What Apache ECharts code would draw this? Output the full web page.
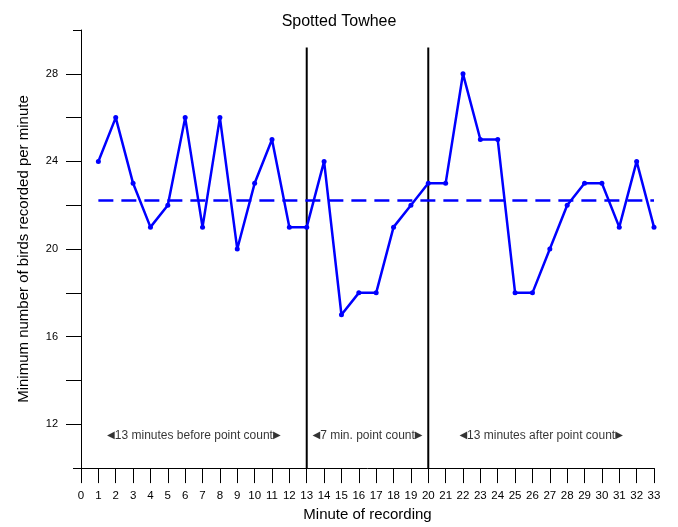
<!DOCTYPE html>
<html>
<head>
<meta charset="utf-8">
<script src="https://cdn.jsdelivr.net/npm/echarts@6/dist/echarts.min.js"></script>
<style>
  html, body { margin: 0; padding: 0; background: #fff; }
  #chart { width: 678px; height: 527px; }
</style>
</head>
<body>
<div id="chart"></div>
<script>
// Minute of recording and the minimum number of birds recorded in that minute
const minutes = [1, 2, 3, 4, 5, 6, 7, 8, 9, 10, 11, 12, 13, 14, 15, 16, 17,
                 18, 19, 20, 21, 22, 23, 24, 25, 26, 27, 28, 29, 30, 31, 32, 33];
const birdsPerMinute = [24, 26, 23, 21, 22, 26, 21, 26, 20, 23, 25, 21, 21, 24, 17, 18, 18,
                        21, 22, 23, 23, 28, 25, 25, 18, 18, 20, 22, 23, 23, 21, 24, 21];

// Point count period boundaries (minutes) and the recording periods
const periodBounds = [0, 13, 20, 33];
const periodLabels = ['13 minutes before point count', '7 min. point count', '13 minutes after point count'];

// Axis ticks
const yTicks = [12, 14, 16, 18, 20, 22, 24, 26, 28];
const yTickLabels = [12, 16, 20, 24, 28];

const FONT = '"Liberation Sans", Arial, Helvetica, sans-serif';

const mean = birdsPerMinute.reduce((a, b) => a + b, 0) / birdsPerMinute.length;
const boundaryTop = 29.2;
const labelLevel = 11.5;

const series = [];

// Period boundary lines
periodBounds.slice(1, -1).forEach(b => {
  series.push({
    type: 'line',
    data: [[b, 10], [b, boundaryTop]],
    symbol: 'none',
    lineStyle: { color: '#000', width: 2 },
    silent: true,
    z: 1
  });
});

// Mean line across all minutes
series.push({
  type: 'line',
  data: [[minutes[0], mean], [minutes[minutes.length - 1], mean]],
  symbol: 'none',
  lineStyle: { color: '#0000ff', width: 2.5, type: [15, 8] },
  silent: true,
  z: 2
});

// Birds per minute
series.push({
  type: 'line',
  data: minutes.map((m, i) => [m, birdsPerMinute[i]]),
  symbol: 'circle',
  symbolSize: 5,
  itemStyle: { color: '#0000ff' },
  lineStyle: { color: '#0000ff', width: 2.5 },
  z: 3
});

// Period annotations
series.push({
  type: 'scatter',
  symbolSize: 0,
  silent: true,
  data: periodLabels.map((t, i) => ({
    value: [(periodBounds[i] + periodBounds[i + 1]) / 2, labelLevel],
    name: t
  })),
  label: {
    show: true,
    position: 'inside',
    formatter: p => '{arr|\u25C0}' + p.name + '{arr|\u25B6}',
    color: '#000',
    fontSize: 12,
    fontFamily: FONT,
    rich: {
      arr: { fontSize: 10, fontFamily: '"DejaVu Sans", sans-serif', color: '#000' }
    }
  },
  z: 4
});

const chart = echarts.init(document.getElementById('chart'), null, { renderer: 'canvas' });
chart.setOption({
  animation: false,
  backgroundColor: '#fff',
  title: {
    text: 'Spotted Towhee',
    left: 'center',
    top: 9,
    textStyle: { fontSize: 16, fontWeight: 'normal', color: '#000', fontFamily: FONT }
  },
  grid: { left: 81, right: 24, top: 30, bottom: 57 },
  xAxis: {
    type: 'value',
    min: 0,
    max: 33,
    interval: 1,
    name: 'Minute of recording',
    nameLocation: 'middle',
    nameGap: 38,
    nameTextStyle: { fontSize: 15, color: '#000', fontFamily: FONT },
    axisLine: { show: true, lineStyle: { color: '#000', width: 1 } },
    axisTick: { show: true, length: 15, lineStyle: { color: '#000', width: 1 } },
    axisLabel: { margin: 22, fontSize: 11.5, color: '#000', fontFamily: FONT },
    splitLine: { show: false }
  },
  yAxis: [{
    type: 'value',
    min: 10,
    max: 30,
    interval: 2,
    name: 'Minimum number of birds recorded per minute',
    nameLocation: 'middle',
    nameGap: 50,
    nameTextStyle: { fontSize: 15, color: '#000', fontFamily: FONT },
    axisLine: { show: true, lineStyle: { color: '#000', width: 1 } },
    axisTick: { show: true, length: 15, customValues: yTicks, lineStyle: { color: '#000', width: 1 } },
    axisLabel: { margin: 23, fontSize: 11, color: '#000', fontFamily: FONT, customValues: yTickLabels },
    splitLine: { show: false }
  }, {
    // short end ticks at the ends of the y range
    type: 'value',
    position: 'left',
    min: 10,
    max: 30,
    interval: 2,
    axisLine: { show: false },
    axisTick: { show: true, length: 8, customValues: [10, 30], lineStyle: { color: '#000', width: 1 } },
    axisLabel: { show: false },
    splitLine: { show: false }
  }],
  series: series
});
</script>
</body>
</html>
